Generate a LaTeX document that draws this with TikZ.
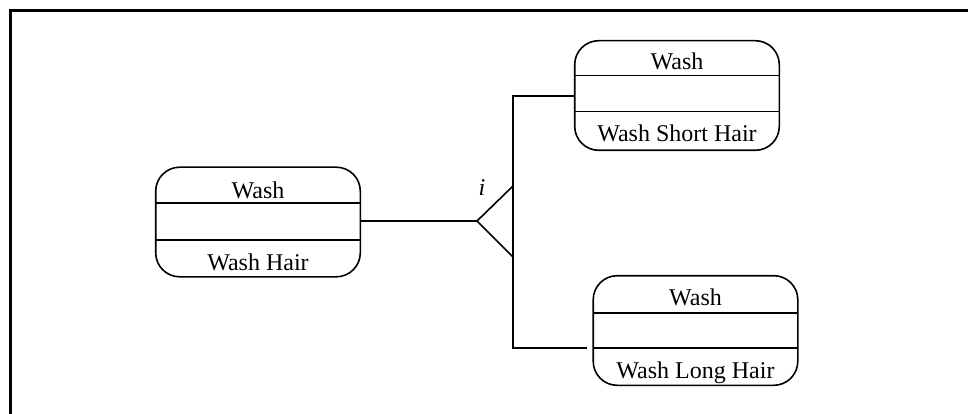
\documentclass[tikz,border=0pt]{standalone}
\usepackage{fontspec}
\setmainfont{Liberation Serif}
\begin{document}
\begin{tikzpicture}[x=1pt,y=-1pt,
  cls/.style={line width=1.6pt, minimum width=203pt, minimum height=108pt, inner sep=0pt},
  box/.style={draw, line width=1.6pt, rounded corners=24pt},
  lbl/.style={font=\fontsize{24}{28}\selectfont, inner sep=0pt, anchor=base},
  div/.style={line width=1.6pt},
  conn/.style={line width=1.6pt}]
\useasboundingbox (0,0) rectangle (968,414);
\draw[line width=3pt] (10.5,414) -- (10.5,10.5) -- (968,10.5);
% left class
\node[cls] (wh) at (258,222) {};
\draw[box] (wh.north west) rectangle (wh.south east);
\draw[div] ([yshift=-36pt]wh.north west) -- ([yshift=-36pt]wh.north east);
\draw[div] ([yshift=-73pt]wh.north west) -- ([yshift=-73pt]wh.north east);
\node[lbl] (wht) at (258,198) {Wash};
\node[lbl] (whb) at (258,270) {Wash Hair};
% top right class
\node[cls] (ws) at (677,95.5) {};
\draw[box] (ws.north west) rectangle (ws.south east);
\draw[div] ([yshift=-35pt]ws.north west) -- ([yshift=-35pt]ws.north east);
\draw[div] ([yshift=-71pt]ws.north west) -- ([yshift=-71pt]ws.north east);
\node[lbl] (wst) at (677,70) {Wash};
\node[lbl] (wsb) at (677,142) {Wash Short Hair};
% bottom right class
\node[cls] (wl) at (695.5,330.5) {};
\draw[box] (wl.north west) rectangle (wl.south east);
\draw[div] ([yshift=-37pt]wl.north west) -- ([yshift=-37pt]wl.north east);
\draw[div] ([yshift=-72pt]wl.north west) -- ([yshift=-72pt]wl.north east);
\node[lbl] (wlt) at (695.5,305) {Wash};
\node[lbl] (wlb) at (695.5,378) {Wash Long Hair};
% generalization
\coordinate (apex) at (477,221);
\coordinate (tu) at (513,186);
\coordinate (tl) at (513,257);
\coordinate (vt) at (513,96);
\coordinate (vb) at (513,348);
\coordinate (lend) at (587,348);
\draw[conn] (wh.east |- apex) -- (apex);
\draw[conn] (tu) -- (apex) -- (tl);
\draw[conn] (ws.west |- vt) -- (vt) -- (vb) -- (lend);
\node[lbl, font=\fontsize{24}{28}\selectfont\itshape] (i) at (482,196) {i};
\end{tikzpicture}
\end{document}
